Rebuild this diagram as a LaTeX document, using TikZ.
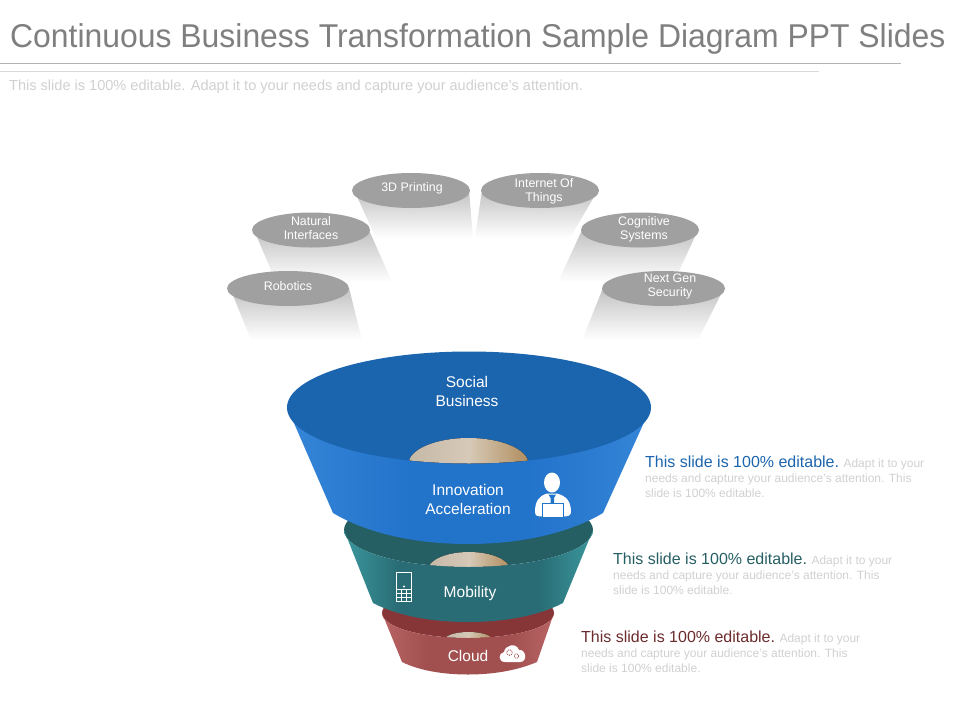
\documentclass[tikz,border=0pt]{standalone}
\usepackage{fontspec}
\setmainfont{Liberation Sans}
\usetikzlibrary{shapes.geometric}

\definecolor{titlegray}{HTML}{7F7F7F}
\definecolor{notegray}{HTML}{D0D0D0}
\definecolor{pillgray}{HTML}{A0A0A0}
\definecolor{blueTop}{HTML}{1B64AE}
\definecolor{blueMid}{HTML}{2273CA}
\definecolor{blueEdge}{HTML}{3585D8}
\definecolor{tealTop}{HTML}{255E63}
\definecolor{tealMid}{HTML}{296C75}
\definecolor{tealEdge}{HTML}{3A979C}
\definecolor{redTop}{HTML}{873638}
\definecolor{redMid}{HTML}{A24F50}
\definecolor{redEdge}{HTML}{B86464}
\definecolor{domeL}{HTML}{C6B8A6}
\definecolor{domeM}{HTML}{D6C9B7}
\definecolor{domeR}{HTML}{B08D5E}

\pgfdeclarehorizontalshading{bluebody}{100bp}{color(0bp)=(blueEdge); color(25bp)=(blueEdge); color(42bp)=(blueMid); color(58bp)=(blueMid); color(75bp)=(blueEdge); color(100bp)=(blueEdge)}
\pgfdeclarehorizontalshading{tealbody}{100bp}{color(0bp)=(tealEdge); color(25bp)=(tealEdge); color(36bp)=(tealMid); color(64bp)=(tealMid); color(75bp)=(tealEdge); color(100bp)=(tealEdge)}
\pgfdeclarehorizontalshading{redbody}{100bp}{color(0bp)=(redEdge); color(25bp)=(redEdge); color(38bp)=(redMid); color(62bp)=(redMid); color(75bp)=(redEdge); color(100bp)=(redEdge)}

\tikzset{
  pillnode/.style={ellipse,fill=pillgray,inner sep=0pt,minimum height=35pt,minimum width=118pt},
  pilltext/.style={text=white,font=\fontsize{12.4}{14}\selectfont,align=center,inner sep=0pt},
  funneltext/.style={text=white,font=\fontsize{15.5}{19}\selectfont,align=center,inner sep=0pt},
  descnote/.style={anchor=north west,inner sep=0pt,align=left,text=notegray,font=\fontsize{12}{14.6}\selectfont},
  shadowpart/.style={top color=black!24,bottom color=white,draw=none},
  domepart/.style={left color=domeL,right color=domeR,middle color=domeM},
}
\newcommand{\notebody}[1]{{\color{#1}\fontsize{16}{14.6}\selectfont This slide is 100\% editable.} Adapt it to your\\needs and capture your audience's attention. This\\slide is 100\% editable.}

\begin{document}
\begin{tikzpicture}[x=1pt,y=-1pt]
  \useasboundingbox (0,0) rectangle (960,720);

  % header
  \node[anchor=west,inner sep=0pt,text=titlegray,xscale=.967,font=\fontsize{33}{36}\selectfont] (title) at (10,39) {Continuous Business Transformation Sample Diagram PPT Slides};
  \coordinate (ruleA) at (0,63.5);
  \coordinate (ruleB) at (0,71);
  \draw[color=black!30,line width=1pt] (ruleA) -- ++(901,0);
  \draw[color=black!15,line width=1pt] (ruleB) -- ++(819,0);
  \node[anchor=west,inner sep=0pt,text=notegray,font=\fontsize{14.55}{16}\selectfont] (subtitle) at (9,86.5) {This slide is 100\% editable. Adapt it to your needs and capture your audience's attention.};

  % shadows under the pills
  \shade[shadowpart] (230,288) -- (251,340) -- (362,340) -- (349,288) -- cycle;
  \shade[shadowpart] (254,230) -- (276,282) -- (392,282) -- (369,230) -- cycle;
  \shade[shadowpart] (354,190) -- (376,238) -- (473,238) -- (469,190) -- cycle;
  \shade[shadowpart] (482,190) -- (475,238) -- (570,238) -- (598,190) -- cycle;
  \shade[shadowpart] (582,230) -- (558,282) -- (674,282) -- (698,230) -- cycle;
  \shade[shadowpart] (603,288) -- (582,340) -- (698,340) -- (724,288) -- cycle;

  % pills
  \node[pillnode,minimum width=122pt] (robotics) at (288,288.5) {};
  \node[pillnode] (natural) at (311,230) {};
  \node[pillnode] (printing) at (411,190.5) {};
  \node[pillnode] (things) at (540,190.5) {};
  \node[pillnode] (cognitive) at (640,230) {};
  \node[pillnode,minimum width=123pt] (security) at (663.5,288.5) {};

  \begin{scope}[every node/.style={pilltext}]
    \node (roboticslabel) at (288,286) {Robotics};
    \node (naturallabel) at (311,228) {Natural\\Interfaces};
    \node (printinglabel) at (412,188.5) {3D Printing};
    \node (thingslabel) at (544,191.5) {Internet Of\\Things};
    \node (cognitivelabel) at (644,229.5) {Cognitive\\Systems};
    \node (securitylabel) at (670,286.5) {Next Gen\\Security};
  \end{scope}

  % red cup
  \fill[redTop] (468,613) ellipse [x radius=86,y radius=25];
  \begin{scope}
    \clip (468,613) ellipse [x radius=86,y radius=25];
    \fill[domepart] (468.5,640) ellipse [x radius=24,y radius=8];
  \end{scope}
  \path[shading=redbody] (382,613) -- (402,662)
    .. controls (420,671) and (445,674.5) .. (468,674.5) .. controls (491,674.5) and (516,671) .. (537,662)
    -- (554,613) arc [start angle=0,end angle=180,x radius=86,y radius=25] -- cycle;

  % teal cup
  \fill[tealTop] (468.5,530) ellipse [x radius=124.5,y radius=37];
  \begin{scope}
    \clip (468.5,530) ellipse [x radius=124.5,y radius=37];
    \fill[domepart] (469,570) ellipse [x radius=41,y radius=18];
  \end{scope}
  \path[shading=tealbody] (344,530) -- (373,603)
    .. controls (400,617) and (435,622) .. (468,622) .. controls (501,622) and (536,617) .. (563,603)
    -- (593,530) arc [start angle=0,end angle=180,x radius=124.5,y radius=37] -- cycle;

  % blue cup
  \path[shading=bluebody] (287,407) -- (333,513)
    .. controls (370,535) and (420,544) .. (468,544) .. controls (516,544) and (566,535) .. (603,513)
    -- (651,407) -- cycle;
  \fill[blueTop] (469,407.5) ellipse [x radius=182,y radius=56];
  \begin{scope}
    \clip (469,407.5) ellipse [x radius=182,y radius=56];
    \fill[domepart] (468.5,464) ellipse [x radius=60,y radius=26];
  \end{scope}

  \begin{scope}[every node/.style={funneltext}]
    \node (social) at (467,391.5) {Social\\Business};
    \node (innovation) at (468,499.5) {Innovation\\Acceleration};
    \node (mobility) at (470,593.5) {Mobility};
    \node (cloud) at (468,656) {Cloud};
  \end{scope}

  % person with laptop
  \fill[white] (552,482.5) ellipse [x radius=8,y radius=10];
  \fill[white] (535,512) .. controls (535,501) and (539,496) .. (547,493.5) -- (557,493.5)
    .. controls (566,496) and (571,501) .. (571,512) .. controls (571,516) and (567,516.5) .. (563,516.5) -- (542,516.5)
    .. controls (538,516.5) and (535,516) .. (535,512) -- cycle;
  \fill[blueMid] (548.5,494.5) -- (556,494.5) -- (554,498) -- (554,503) -- (550.5,503) -- (550.5,498) -- cycle;
  \draw[blueMid,fill=white,line width=0.8pt] (542.5,503) rectangle (563,517);

  % phone
  \draw[white,line width=0.9pt] (396.5,572.5) rectangle (411.5,601.5);
  \draw[white,line width=0.6pt] (396.5,589.3) -- (411.5,589.3) (396.5,593.3) -- (411.5,593.3) (396.5,597.3) -- (411.5,597.3)
    (401.5,589.3) -- (401.5,601.5) (406.6,589.3) -- (406.6,601.5);
  \fill[white] (404,586.5) circle (1.1);

  % cloud
  \fill[white] (505,662) .. controls (498,662) and (498,653) .. (504,652)
    .. controls (505,645) and (516,642) .. (519,650) .. controls (526,649) and (528,662) .. (520,662) -- cycle;
  \draw[redMid,line width=0.9pt,densely dotted] (509.5,652.5) circle (2.8);
  \draw[redMid,line width=0.9pt,densely dotted] (516.5,656) circle (2.3);

  % notes
  \node[descnote] (noteblue) at (645,456) {\notebody{blueTop}};
  \node[descnote] (noteteal) at (613,553) {\notebody{tealTop}};
  \node[descnote] (notered) at (581,631) {\notebody{redTop!80!black}};
\end{tikzpicture}
\end{document}
